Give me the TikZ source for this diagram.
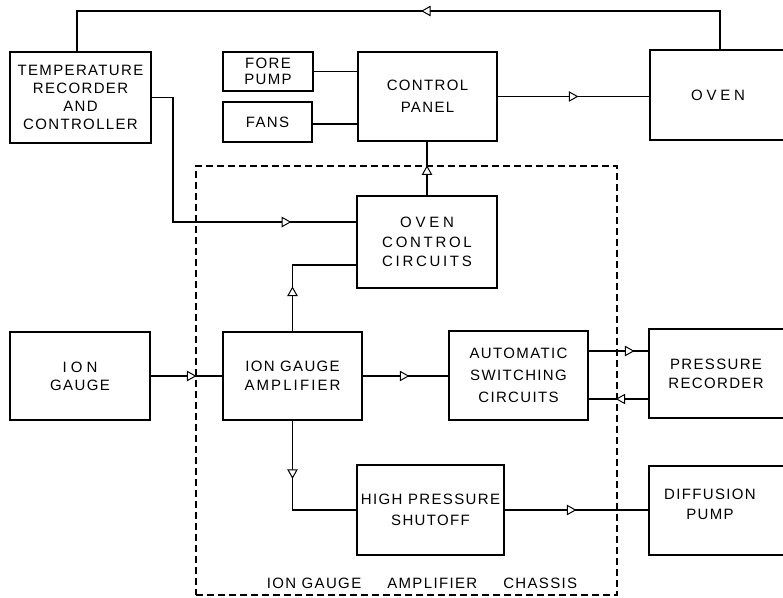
\documentclass[tikz,border=0pt]{standalone}
\usepackage{fontspec}
\setmainfont{Liberation Sans}[LetterSpace=9]
\usetikzlibrary{shapes.geometric,calc}
\tikzset{
  box/.style={draw, line width=1.2pt, inner sep=0pt, align=center, font=\fontsize{15}{18}\selectfont},
  lbl/.style={inner sep=0pt, align=center, font=\fontsize{15}{18}\selectfont},
  conn/.style={line width=1.2pt},
  tri/.style={isosceles triangle, isosceles triangle stretches, minimum height=8pt, minimum width=9pt,
              draw, fill=white, line width=1pt, inner sep=0pt, sloped, allow upside down, anchor=center},
  chassisbox/.style={draw, dash pattern=on 7pt off 4pt, line width=1.2pt, inner sep=0pt},
}
\begin{document}
\begin{tikzpicture}[x=1pt,y=-1pt]
\clip (0,0) rectangle (783,597);
% chassis outline
\node[chassisbox, minimum width=421pt, minimum height=429pt] (chassis) at (406.5,380.5) {};
\node[lbl] (chassislbl) at (422,583) {ION GAUGE\hspace{26pt}AMPLIFIER\hspace{26pt}CHASSIS};
% boxes
\node[box, minimum width=141pt, minimum height=91pt] (temp) at (80.5,97.5) {TEMPERATURE\\RECORDER\\AND\\CONTROLLER};
\node[box, minimum width=90pt, minimum height=39pt] (fore) at (268,71.5) {FORE\\[-2pt]PUMP};
\node[box, minimum width=89pt, minimum height=40pt] (fans) at (267.5,122) {FANS};
\node[box, minimum width=139pt, minimum height=89pt] (cpanel) at (427.5,96.5) {CONTROL\\[4pt]PANEL};
\node[box, minimum width=140pt, minimum height=90pt] (oven) at (720,95) {};
\node[lbl, font=\fontsize{15}{18}\selectfont\addfontfeature{LetterSpace=25}] (oventxt) at (718,95) {OVEN};
\node[box, minimum width=140pt, minimum height=92pt, font=\fontsize{15}{18}\selectfont\addfontfeature{LetterSpace=18}] (ocirc) at (427,242) {{\addfontfeature{LetterSpace=25}OVEN}\\[1.5pt]CONTROL\\[1.5pt]CIRCUITS};
\node[box, minimum width=140pt, minimum height=88pt] (iong) at (80,376) {{\addfontfeature{LetterSpace=27}ION}\\GAUGE};
\node[box, minimum width=139pt, minimum height=88pt] (ionamp) at (292.5,376) {ION GAUGE\\[1pt]{\addfontfeature{LetterSpace=14}AMPLIFIER}};
\node[box, minimum width=139pt, minimum height=89pt] (auto) at (518.5,375.5) {AUTOMATIC\\[4pt]SWITCHING\\[4pt]CIRCUITS};
\node[box, minimum width=141pt, minimum height=89pt] (press) at (719.5,373.5) {};
\node[lbl] (presstxt) at (716,373.5) {PRESSURE\\[1pt]RECORDER};
\node[box, minimum width=147pt, minimum height=90pt] (hps) at (430.5,510) {HIGH PRESSURE\\[3pt]SHUTOFF};
\node[box, minimum width=141pt, minimum height=89pt] (dpump) at (719.5,510.5) {};
\node[lbl] (dpumptxt) at (710,504) {DIFFUSION\\[2pt]PUMP};
% helper coordinates
\coordinate (topy) at (0,11);
\coordinate (tempup) at ([xshift=-3.5pt]temp.north);
\coordinate (tc) at (173,222);
\coordinate (ic) at (0,265);
\coordinate (py1) at (0,351);
\coordinate (py2) at (0,399);
% connectors
\draw[conn] (oven.north) -- (oven.north |- topy) -- node[tri, pos=0.455] (a1) {} (tempup |- topy) -- (tempup);
\draw[conn] (fore.east) -- (fore.east -| cpanel.west);
\draw[conn] ([yshift=-2pt]fans.east) -- ([yshift=-2pt]fans.east -| cpanel.west);
\draw[conn] (cpanel.east) -- node[tri, pos=0.49] (a2) {} (cpanel.east -| oven.west);
\draw[conn] (ocirc.north) -- node[tri, pos=0.44] (a3) {} (ocirc.north |- cpanel.south);
\draw[conn] (temp.east) -| (tc) -- node[tri, pos=0.61] (a4) {} (tc -| ocirc.west);
\draw[conn] (ionamp.north) -- node[tri, pos=0.58] (a5) {} (ionamp.north |- ic) -- (ic -| ocirc.west);
\draw[conn] (iong.east) -- node[tri, pos=0.55] (a6) {} (ionamp.west);
\draw[conn] (ionamp.east) -- node[tri, pos=0.47] (a7) {} (ionamp.east -| auto.west);
\draw[conn] (auto.east |- py1) -- node[tri, pos=0.66] (a8) {} (press.west |- py1);
\draw[conn] (press.west |- py2) -- node[tri, pos=0.44] (a9) {} (auto.east |- py2);
\draw[conn] (ionamp.south) -- node[tri, pos=0.58] (a10) {} (ionamp.south |- hps.west) -- (hps.west);
\draw[conn] (hps.east) -- node[tri, pos=0.455] (a11) {} (hps.east -| dpump.west);
\end{tikzpicture}
\end{document}
